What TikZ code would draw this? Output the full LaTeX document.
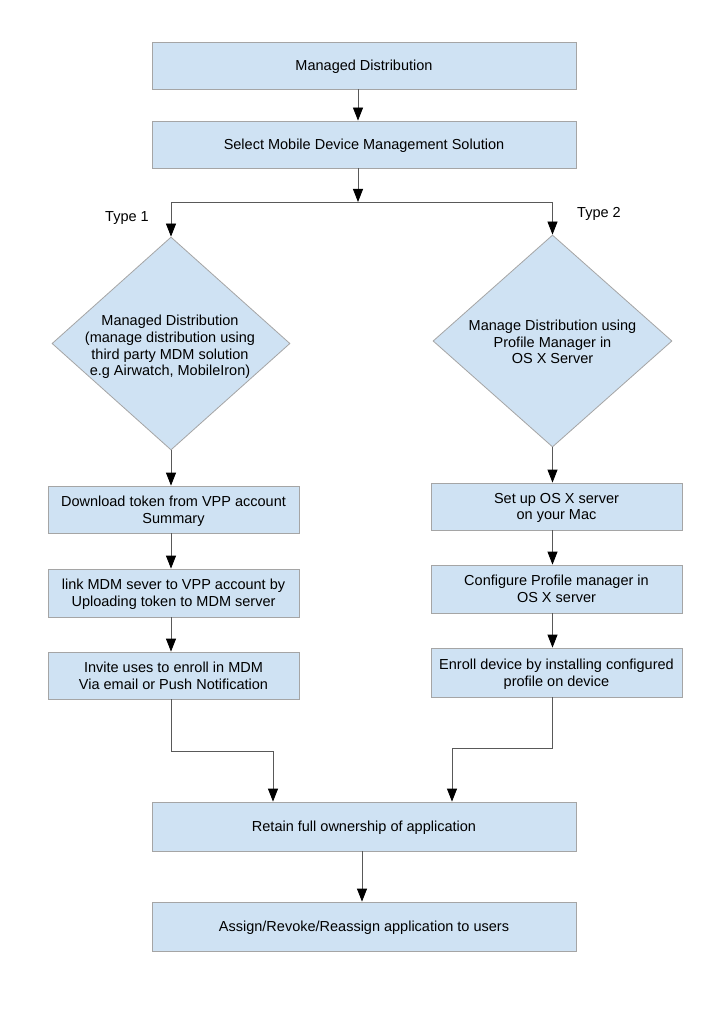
\documentclass[tikz,border=0pt]{standalone}
\usepackage{fontspec}
\setmainfont{Liberation Sans}
\usetikzlibrary{shapes.geometric,arrows.meta}
\definecolor{boxfill}{HTML}{CFE2F3}
\definecolor{boxline}{HTML}{A5A5A5}
\definecolor{conn}{HTML}{595959}
\begin{document}
\begin{tikzpicture}[x=1pt,y=-1pt,
  every node/.style={font=\fontsize{14.5}{16.6}\selectfont},
  box/.style={draw=boxline, fill=boxfill, line width=0.8pt, minimum height=47pt, align=center, inner sep=0pt, text depth=-1pt},
  wide/.style={box, minimum width=424pt},
  col/.style={box, minimum width=251pt},
  dia/.style={diamond, draw=boxline, fill=boxfill, line width=0.8pt, inner sep=0pt},
  arr/.style={draw=conn, line width=0.8pt, -{Triangle[width=10pt,length=13pt,color=black]}}]
\useasboundingbox[fill=white] (0,0) rectangle (723,1024);
\node[wide] (top) at (364,65.5) {Managed Distribution};
\node[wide] (sel) at (364,144.5) {Select Mobile Device Management Solution};
\node[dia, minimum width=238pt, minimum height=213pt] (d1) at (171,343.5) {};
\node[align=center] (d1t) at (170,347) {Managed Distribution\\(manage distribution using\\third party MDM solution\\e.g Airwatch, MobileIron)};
\node[dia, minimum width=239pt, minimum height=212pt] (d2) at (552.5,341) {};
\node[align=center] (d2t) at (552.5,342) {Manage Distribution using\\Profile Manager in\\OS X Server};
\node (t1) at (127,218) {Type 1};
\node (t2) at (599,214) {Type 2};
\node[col] (l1) at (173.5,509.5) {Download token from VPP account\\Summary};
\node[col, minimum height=48pt] (l2) at (173.5,593) {link MDM sever to VPP account by\\Uploading token to MDM server};
\node[col] (l3) at (173.5,675.5) {Invite uses to enroll in MDM\\Via email or Push Notification};
\node[col] (r1) at (556.5,506.5) {Set up OS X server\\on your Mac};
\node[col, minimum height=48pt] (r2) at (556.5,589) {Configure Profile manager in\\OS X server};
\node[col, minimum height=49pt] (r3) at (556.5,672.5) {Enroll device by installing configured\\profile on device};
\node[wide, minimum height=49pt] (ret) at (364,826.5) {Retain full ownership of application};
\node[wide, minimum height=49pt] (asg) at (364,926.5) {Assign/Revoke/Reassign application to users};
\coordinate (j) at (358,202);
\coordinate (k) at (362,0);
\coordinate (ml) at (273,751);
\coordinate (mr) at (452,748);
\draw[arr] (top.south -| j) -- (sel.north -| j);
\draw[arr] (sel.south -| j) -- (j);
\draw[arr] (j) -| (d1.north);
\draw[arr] (j) -| (d2.north);
\draw[arr] (d1.south) -- (d1.south |- l1.north);
\draw[arr] (l1.south -| d1) -- (l2.north -| d1);
\draw[arr] (l2.south -| d1) -- (l3.north -| d1);
\draw[arr] (d2.south) -- (d2.south |- r1.north);
\draw[arr] (r1.south -| d2) -- (r2.north -| d2);
\draw[arr] (r2.south -| d2) -- (r3.north -| d2);
\draw[arr] (l3.south -| d1) |- (ml) -- (ml |- ret.north);
\draw[arr] (r3.south -| d2) |- (mr) -- (mr |- ret.north);
\draw[arr] (ret.south -| k) -- (asg.north -| k);
\end{tikzpicture}
\end{document}
